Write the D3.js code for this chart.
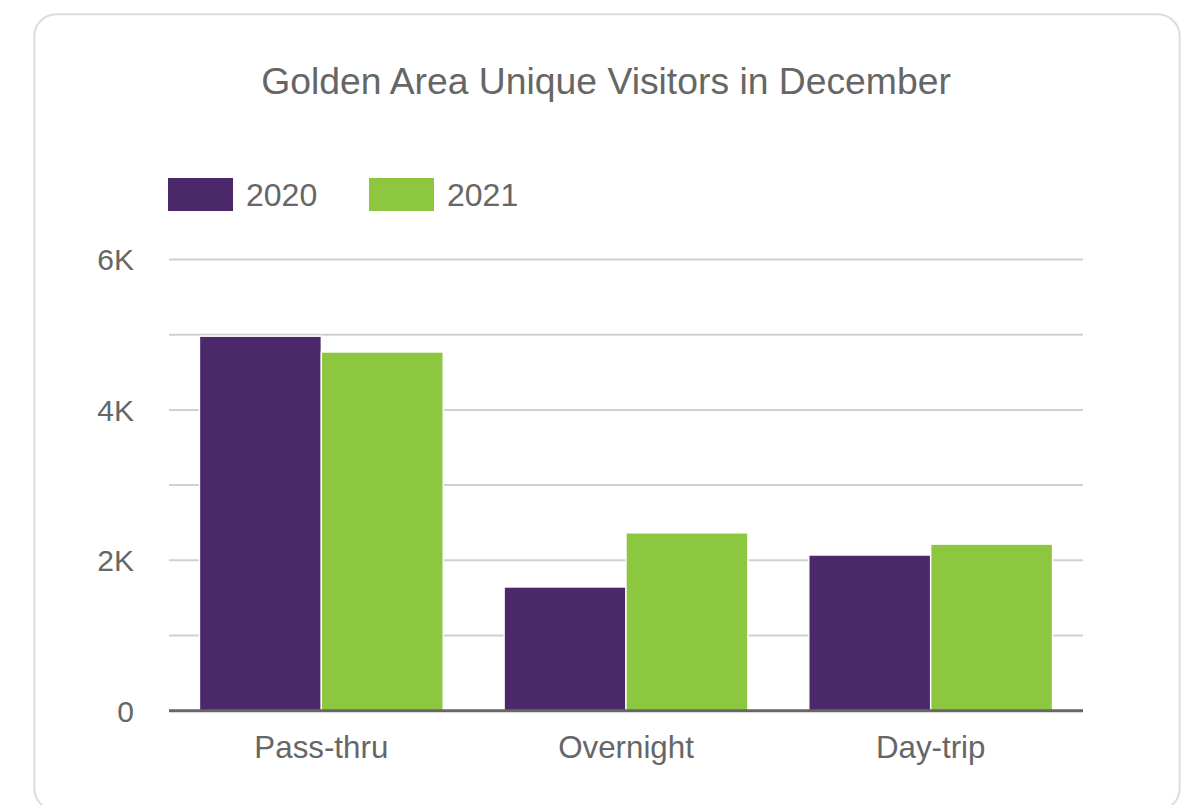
<!DOCTYPE html>
<html>
<head>
<meta charset="utf-8">
<script src="https://cdn.jsdelivr.net/npm/d3@7"></script>
<style>
  html, body { margin: 0; padding: 0; background: #fff; overflow: hidden; }
  svg { display: block; font-family: "Liberation Sans", Arial, sans-serif; }
</style>
</head>
<body>
<svg id="chart" width="1199" height="805"></svg>
<script>
const title = "Golden Area Unique Visitors in December";
const categories = ["Pass-thru", "Overnight", "Day-trip"];
const seriesNames = ["2020", "2021"];
const values2020 = [4980, 1645, 2070];
const values2021 = [4770, 2365, 2215];
const yTicks = [0, 1000, 2000, 3000, 4000, 5000, 6000];
const yTickLabels = ["0", "", "2K", "", "4K", "", "6K"];
const colors = ["#4b2869", "#8dc63f"];

const svg = d3.select("#chart");
const textColor = "#666666";

// card
svg.append("rect")
  .attr("x", 34.3).attr("y", 14.3)
  .attr("width", 1145.4).attr("height", 796)
  .attr("rx", 22).attr("ry", 22)
  .attr("fill", "#fff")
  .attr("stroke", "#dcdcdc")
  .attr("stroke-width", 2);

// title
svg.append("text")
  .attr("x", 606).attr("y", 94)
  .attr("text-anchor", "middle")
  .attr("fill", textColor)
  .attr("font-size", 37.3)
  .text(title);

const plotLeft = 169, plotRight = 1083, plotTop = 259.5, plotBottom = 710.7;

const x0 = d3.scaleBand().domain(categories).range([plotLeft, plotRight])
  .paddingInner(0.2).paddingOuter(0.1);
const x1 = d3.scaleBand().domain(seriesNames).range([0, x0.bandwidth()]);
const y = d3.scaleLinear().domain([0, 6000]).range([plotBottom, plotTop]);

// grid lines
svg.append("g").selectAll("line")
  .data(yTicks.filter(d => d > 0))
  .join("line")
  .attr("x1", plotLeft).attr("x2", plotRight)
  .attr("y1", d => y(d)).attr("y2", d => y(d))
  .attr("stroke", "#d0d0d0")
  .attr("stroke-width", 2);

// y labels
svg.append("g").selectAll("text")
  .data(yTicks.map((d, i) => ({ v: d, label: yTickLabels[i] })).filter(d => d.label))
  .join("text")
  .attr("x", 134)
  .attr("y", d => y(d.v))
  .attr("dy", "0.36em")
  .attr("text-anchor", "end")
  .attr("fill", textColor)
  .attr("font-size", 30)
  .text(d => d.label);

// bars
const data = categories.map((c, i) => ({ cat: c, vals: [values2020[i], values2021[i]] }));
const groups = svg.append("g").selectAll("g")
  .data(data)
  .join("g")
  .attr("transform", d => `translate(${x0(d.cat)},0)`);
groups.selectAll("rect")
  .data(d => d.vals.map((v, i) => ({ s: seriesNames[i], v, i })))
  .join("rect")
  .attr("x", d => x1(d.s))
  .attr("y", d => y(d.v))
  .attr("width", x1.bandwidth())
  .attr("height", d => y(0) - y(d.v))
  .attr("fill", d => colors[d.i])
  .attr("stroke", "#fff")
  .attr("stroke-width", 1.4);

// baseline
svg.append("line")
  .attr("x1", plotLeft).attr("x2", plotRight)
  .attr("y1", plotBottom).attr("y2", plotBottom)
  .attr("stroke", "#666")
  .attr("stroke-width", 3);

// x labels
svg.append("g").selectAll("text")
  .data(categories)
  .join("text")
  .attr("x", d => x0(d) + x0.bandwidth() / 2)
  .attr("y", 758)
  .attr("text-anchor", "middle")
  .attr("fill", textColor)
  .attr("font-size", 31.3)
  .text(d => d);

// legend
const legendX = [168, 369];
const lg = svg.append("g").selectAll("g")
  .data(seriesNames)
  .join("g")
  .attr("transform", (d, i) => `translate(${legendX[i]},178)`);
lg.append("rect")
  .attr("width", 65).attr("height", 33)
  .attr("fill", (d, i) => colors[i]);
lg.append("text")
  .attr("x", 78).attr("y", 28)
  .attr("fill", textColor)
  .attr("font-size", 32)
  .text(d => d);
</script>
</body>
</html>
